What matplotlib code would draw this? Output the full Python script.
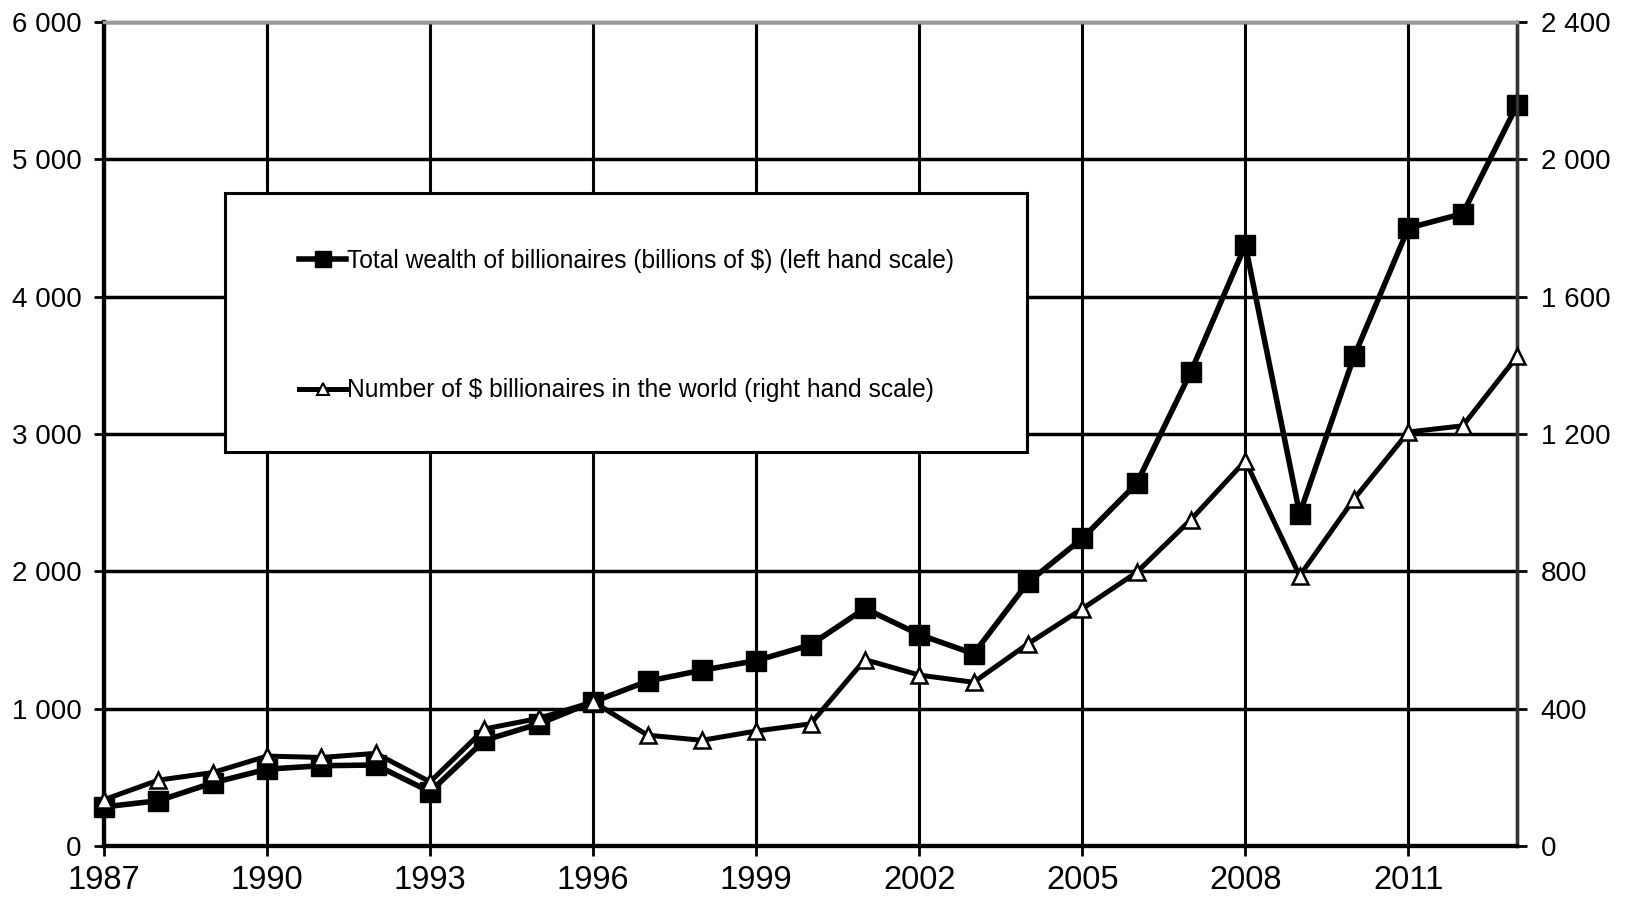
import numpy as np
import matplotlib.pyplot as plt
from matplotlib.lines import Line2D
from matplotlib.patches import Rectangle
from matplotlib.ticker import FuncFormatter, MultipleLocator

plt.rcParams['font.family'] = ['Liberation Sans', 'DejaVu Sans']

years = list(range(1987, 2014))
# total wealth of billionaires, billions of $ (left scale)
wealth = [285, 330, 460, 560, 585, 590, 395, 770, 890, 1050, 1200, 1280, 1350, 1465,
          1730, 1540, 1400, 1920, 2240, 2640, 3455, 4375, 2420, 3565, 4500, 4605, 5395]
# number of $ billionaires (right scale)
number = [135, 192, 214, 262, 258, 270, 187, 341, 372, 420, 323, 308, 335, 356,
          543, 498, 477, 589, 691, 797, 951, 1122, 787, 1011, 1206, 1224, 1426]
year_ticks = [1987, 1990, 1993, 1996, 1999, 2002, 2005, 2008, 2011]

label_wealth = "Total wealth of billionaires (billions of $) (left hand scale)"
label_number = "Number of $ billionaires in the world (right hand scale)"


def spaced(v, pos):
    return f"{v:,.0f}".replace(",", " ")


fig = plt.figure(figsize=(16.26, 9.01), dpi=100)
ax = fig.add_axes([0.064, 0.061, 0.869, 0.9145])
ax2 = ax.twinx()

ax.plot(years, wealth, color='black', lw=4, marker='s', ms=14,
        mfc='black', mec='black', zorder=3, clip_on=False)
ax2.plot(years, number, color='black', lw=3.6, marker='^', ms=11,
         mfc='white', mec='black', mew=1.8, zorder=3, clip_on=False)

ax.set_xlim(1987, 2013)
ax.set_ylim(0, 6000)
ax2.set_ylim(0, 2400)
ax.set_xticks(year_ticks)
ax.yaxis.set_major_locator(MultipleLocator(1000))
ax2.yaxis.set_major_locator(MultipleLocator(400))
ax.yaxis.set_major_formatter(FuncFormatter(spaced))
ax2.yaxis.set_major_formatter(FuncFormatter(spaced))

ax.set_axisbelow(True)
ax.grid(axis='y', color='black', lw=2.5)
ax.grid(axis='x', color='black', lw=2.2)

ax.tick_params(axis='y', direction='out', length=7, width=2, pad=9, labelsize=20)
ax.tick_params(axis='x', direction='out', length=7, width=2, pad=7, labelsize=23.5)
ax2.tick_params(axis='y', direction='out', length=7, width=2, pad=10, labelsize=20)

for a in (ax, ax2):
    a.spines['left'].set_linewidth(3)
    a.spines['bottom'].set_linewidth(3)
    a.spines['top'].set_color('#999999')
    a.spines['top'].set_linewidth(2.5)
    a.spines['right'].set_color('#333333')
    a.spines['right'].set_linewidth(2.4)

# legend box
fig.patches.append(Rectangle((0.1384, 0.4983), 0.4932, 0.2875, transform=fig.transFigure,
                             facecolor='white', edgecolor='black', lw=2.2, zorder=4))
handles = [
    Line2D([], [], color='black', lw=4, marker='s', ms=11, mfc='black'),
    Line2D([], [], color='black', lw=3.6, marker='^', ms=9, mfc='white', mew=1.5),
]
fig.legend(handles, [label_wealth, label_number], loc='center left',
           bbox_to_anchor=(0.1705, 0.6387), frameon=False, fontsize=17.7,
           labelspacing=4.28, handlelength=1.9, handletextpad=0.05)

fig.savefig("out.png", dpi=100)
